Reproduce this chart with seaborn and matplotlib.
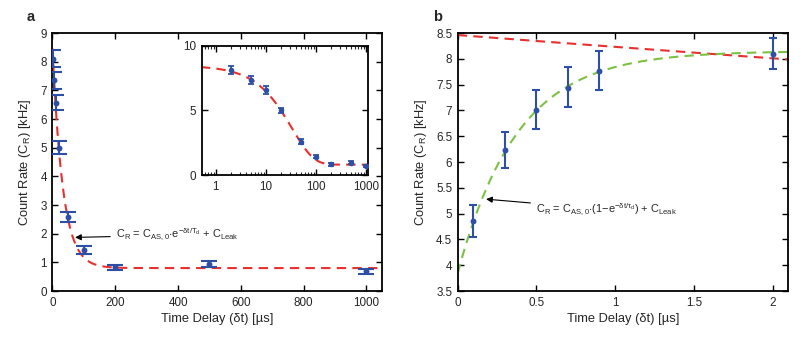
import numpy as np
import pandas as pd
import matplotlib
matplotlib.use("Agg")
import matplotlib.pyplot as plt
from matplotlib import font_manager
from matplotlib.ticker import FuncFormatter, FixedLocator, LogLocator, NullFormatter
import seaborn as sns

# ---------------- data ----------------
# panel a: decay of retrieved count rate
delay_a = [2, 5, 10, 20, 50, 100, 200, 500, 1000]          # us
rate_a = [8.1, 7.35, 6.55, 5.0, 2.58, 1.43, 0.84, 0.93, 0.70]  # kHz
err_lo_a = [0.30, 0.30, 0.25, 0.22, 0.18, 0.14, 0.12, 0.10, 0.10]
err_hi_a = [0.30, 0.28, 0.30, 0.22, 0.17, 0.13, 0.08, 0.12, 0.07]
# fit parameters panel a: C_R = C_AS0 * exp(-dt/T_d) + C_Leak
fit_a_amp = 7.66
fit_a_tau = 33.0
fit_a_leak = 0.80

# panel b: rise at short delays
delay_b = [0.1, 0.3, 0.5, 0.7, 0.9, 2.0]       # us
rate_b = [4.85, 6.24, 7.0, 7.44, 7.77, 8.10]   # kHz
err_lo_b = [0.30, 0.35, 0.37, 0.38, 0.38, 0.30]
err_hi_b = [0.31, 0.35, 0.39, 0.40, 0.39, 0.30]
# fit parameters panel b: C_R = C_AS0 * (1 - exp(-dt/tau_d)) + C_Leak
fit_b_amp = 4.30
fit_b_tau = 0.38
fit_b_leak = 3.85

xticks_a = [0, 200, 400, 600, 800, 1000]
yticks_a = [0, 1, 2, 3, 4, 5, 6, 7, 8, 9]
xticks_in = [1, 10, 100, 1000]
yticks_in = [0, 5, 10]
xticks_b = [0, 0.5, 1, 1.5, 2]
yticks_b = [3.5, 4, 4.5, 5, 5.5, 6, 6.5, 7, 7.5, 8, 8.5]

# ---------------- style ----------------
sns.set_style("ticks")
available = {f.name for f in font_manager.fontManager.ttflist}
NARROW = "Liberation Sans Narrow" in available
base_font = "Liberation Sans Narrow" if NARROW else "Liberation Sans"
scale = 1.0 if NARROW else 0.88
plt.rcParams["font.family"] = [base_font, "DejaVu Sans"]
plt.rcParams["mathtext.fontset"] = "custom"
plt.rcParams["mathtext.rm"] = base_font
plt.rcParams["mathtext.it"] = base_font
plt.rcParams["mathtext.default"] = "regular"
plt.rcParams["axes.linewidth"] = 1.3

RED = "#e8302f"
GREEN = "#7cc242"
BLUE = "#2d4fa6"
TXT = "#262626"
DASH = (0, (4.5, 3.0))
TICK_FS = 9.5 * scale
LABEL_FS = 10.5 * scale
ANN_FS = 9.0 * scale

fmt_g = FuncFormatter(lambda v, p: f"{v:g}")

fig = plt.figure(figsize=(8.1, 3.42), dpi=100)
ax_a = fig.add_axes([0.0648, 0.1491, 0.4068, 0.7544])
ax_in = fig.add_axes([0.249, 0.4883, 0.205, 0.378])
ax_b = fig.add_axes([0.5651, 0.1491, 0.4081, 0.7544])


def style_axes(ax):
    ax.tick_params(direction="in", top=True, right=True, length=4, width=1.0,
                   labelsize=TICK_FS, color="black", labelcolor=TXT, pad=4)
    for s in ax.spines.values():
        s.set_visible(True)
        s.set_color("black")
        s.set_linewidth(1.3)


# ---------- panel a ----------
df_a = pd.DataFrame({"t": delay_a, "c": rate_a})
t_fit_a = np.linspace(0, 1050, 600)
fit_df_a = pd.DataFrame({"t": t_fit_a,
                         "c": fit_a_amp * np.exp(-t_fit_a / fit_a_tau) + fit_a_leak})
sns.lineplot(data=fit_df_a, x="t", y="c", ax=ax_a, color=RED, lw=1.5,
             linestyle=DASH, zorder=2)
ax_a.errorbar(delay_a, rate_a, yerr=[err_lo_a, err_hi_a], fmt="none",
              ecolor=BLUE, elinewidth=1.5, capsize=5.5, capthick=1.5, zorder=3)
sns.scatterplot(data=df_a, x="t", y="c", ax=ax_a, color=BLUE, s=18,
                edgecolor=BLUE, linewidth=0, zorder=4)
ax_a.set_xlim(0, 1050)
ax_a.set_ylim(0, 9)
ax_a.xaxis.set_major_locator(FixedLocator(xticks_a))
ax_a.yaxis.set_major_locator(FixedLocator(yticks_a))
ax_a.xaxis.set_major_formatter(fmt_g)
ax_a.yaxis.set_major_formatter(fmt_g)
ax_a.set_xlabel("Time Delay (δt) [µs]", fontsize=LABEL_FS, labelpad=3, color=TXT)
ax_a.set_ylabel("Count Rate (C$_R$) [kHz]", fontsize=LABEL_FS, labelpad=5, color=TXT)
style_axes(ax_a)
ax_a.annotate(r"$C_R$ = $C_{AS,0}{\cdot}e^{-\delta t/T_d}$ + $C_{Leak}$",
              xy=(72, 1.87), xytext=(203, 1.95), fontsize=ANN_FS,
              va="center", ha="left", color=TXT,
              arrowprops=dict(arrowstyle="-|>", color="black", lw=0.8,
                              mutation_scale=9, shrinkA=2, shrinkB=0))
fig.text(0.033, 0.94, "a", fontsize=10.5, fontweight="bold", color=TXT)

# ---------- inset ----------
t_fit_in = np.logspace(np.log10(0.5), np.log10(1100), 400)
fit_df_in = pd.DataFrame({"t": t_fit_in,
                          "c": fit_a_amp * np.exp(-t_fit_in / fit_a_tau) + fit_a_leak})
sns.lineplot(data=fit_df_in, x="t", y="c", ax=ax_in, color=RED, lw=1.5,
             linestyle=DASH, zorder=2)
ax_in.errorbar(delay_a, rate_a, yerr=[err_lo_a, err_hi_a], fmt="none",
               ecolor=BLUE, elinewidth=1.3, capsize=2, capthick=1.3, zorder=3)
sns.scatterplot(data=df_a, x="t", y="c", ax=ax_in, color=BLUE, s=16,
                edgecolor=BLUE, linewidth=0, zorder=4)
ax_in.set_xscale("log")
ax_in.set_xlim(0.52, 1080)
ax_in.set_ylim(0, 10)
ax_in.xaxis.set_major_locator(FixedLocator(xticks_in))
ax_in.xaxis.set_major_formatter(fmt_g)
ax_in.xaxis.set_minor_locator(LogLocator(base=10, subs=np.arange(2, 10)))
ax_in.xaxis.set_minor_formatter(NullFormatter())
ax_in.yaxis.set_major_locator(FixedLocator(yticks_in))
ax_in.yaxis.set_major_formatter(fmt_g)
ax_in.set_xlabel("")
ax_in.set_ylabel("")
style_axes(ax_in)
ax_in.tick_params(which="minor", direction="in", top=True, length=2, width=0.8)

# ---------- panel b ----------
df_b = pd.DataFrame({"t": delay_b, "c": rate_b})
t_fit_b = np.linspace(0, 2.1, 400)
fit_df_b_red = pd.DataFrame({"t": t_fit_b,
                             "c": fit_a_amp * np.exp(-t_fit_b / fit_a_tau) + fit_a_leak})
fit_df_b_green = pd.DataFrame({"t": t_fit_b,
                               "c": fit_b_amp * (1 - np.exp(-t_fit_b / fit_b_tau)) + fit_b_leak})
sns.lineplot(data=fit_df_b_red, x="t", y="c", ax=ax_b, color=RED, lw=1.5,
             linestyle=DASH, zorder=2)
sns.lineplot(data=fit_df_b_green, x="t", y="c", ax=ax_b, color=GREEN, lw=1.5,
             linestyle=DASH, zorder=2)
ax_b.errorbar(delay_b, rate_b, yerr=[err_lo_b, err_hi_b], fmt="none",
              ecolor=BLUE, elinewidth=1.5, capsize=3, capthick=1.5, zorder=3)
sns.scatterplot(data=df_b, x="t", y="c", ax=ax_b, color=BLUE, s=18,
                edgecolor=BLUE, linewidth=0, zorder=4)
ax_b.set_xlim(0, 2.1)
ax_b.set_ylim(3.5, 8.5)
ax_b.xaxis.set_major_locator(FixedLocator(xticks_b))
ax_b.yaxis.set_major_locator(FixedLocator(yticks_b))
ax_b.xaxis.set_major_formatter(fmt_g)
ax_b.yaxis.set_major_formatter(fmt_g)
ax_b.set_xlabel("Time Delay (δt) [µs]", fontsize=LABEL_FS, labelpad=3, color=TXT)
ax_b.set_ylabel("Count Rate (C$_R$) [kHz]", fontsize=LABEL_FS, labelpad=5, color=TXT)
style_axes(ax_b)
ax_b.annotate(r"$C_R$ = $C_{AS,0}{\cdot}(1{-}e^{-\delta t/\tau_d})$ + $C_{Leak}$",
              xy=(0.18, 5.28), xytext=(0.50, 5.08), fontsize=ANN_FS,
              va="center", ha="left", color=TXT,
              arrowprops=dict(arrowstyle="-|>", color="black", lw=0.8,
                              mutation_scale=9, shrinkA=2, shrinkB=0))
fig.text(0.535, 0.94, "b", fontsize=10.5, fontweight="bold", color=TXT)

fig.savefig("out.png", dpi=100)
